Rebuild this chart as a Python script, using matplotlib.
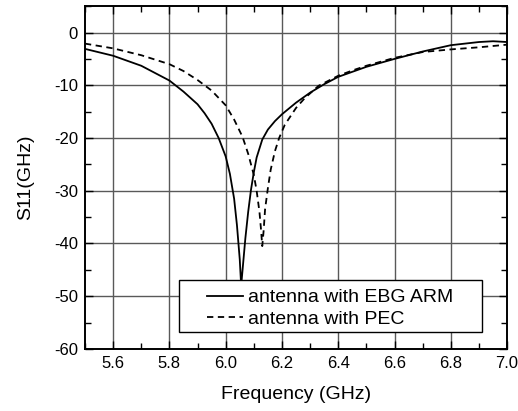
import matplotlib
matplotlib.use("Agg")
import matplotlib.pyplot as plt
from matplotlib.patches import Rectangle
from matplotlib.ticker import MultipleLocator

plt.rcParams['font.family'] = ['Liberation Sans', 'DejaVu Sans']

# antenna with EBG ARM (solid)
freq_ebg = [5.50, 5.60, 5.70, 5.80, 5.85, 5.90, 5.925, 5.95, 5.975, 6.00, 6.015,
            6.03, 6.04, 6.05, 6.055, 6.06, 6.065, 6.07, 6.08, 6.09, 6.10, 6.11,
            6.13, 6.15, 6.175, 6.20, 6.25, 6.30, 6.35, 6.40, 6.50, 6.60, 6.70,
            6.80, 6.90, 6.95, 7.00]
s11_ebg = [-3.1, -4.4, -6.3, -9.1, -11.2, -13.6, -15.3, -17.3, -20.0, -23.5, -26.8,
           -31.5, -36.5, -43.0, -48.0, -45.0, -42.0, -39.0, -34.0, -29.8, -26.5, -23.7,
           -20.3, -18.4, -16.8, -15.5, -13.3, -11.4, -9.8, -8.4, -6.5, -5.0, -3.6,
           -2.4, -1.8, -1.65, -1.8]

# antenna with PEC (dashed)
freq_pec = [5.50, 5.60, 5.70, 5.80, 5.85, 5.90, 5.95, 6.00, 6.03, 6.06, 6.08,
            6.10, 6.11, 6.12, 6.125, 6.13, 6.135, 6.14, 6.15, 6.16, 6.175, 6.19,
            6.21, 6.25, 6.28, 6.33, 6.40, 6.45, 6.50, 6.60, 6.70, 6.80,
            6.90, 7.00]
s11_pec = [-2.1, -3.0, -4.3, -6.0, -7.3, -9.0, -11.0, -13.8, -16.5, -19.8, -23.0,
           -27.0, -30.0, -34.0, -37.0, -40.5, -37.5, -33.5, -29.5, -26.0, -22.5, -20.0,
           -17.5, -14.3, -12.5, -10.1, -8.2, -7.2, -6.3, -4.8, -3.7, -3.2,
           -2.8, -2.3]

fig = plt.figure(figsize=(5.18, 4.11), dpi=100)
ax = fig.add_axes([0.164, 0.151, 0.815, 0.834])

ax.plot(freq_ebg, s11_ebg, color="black", linewidth=1.3, label="antenna with EBG ARM")
ax.plot(freq_pec, s11_pec, color="black", linewidth=1.3, dashes=(3.5, 2.5),
        label="antenna with PEC")

ax.set_xlim(5.5, 7.0)
ax.set_ylim(-60, 5)
ax.xaxis.set_minor_locator(MultipleLocator(0.1))
ax.yaxis.set_minor_locator(MultipleLocator(5))
ax.set_xticks([5.6, 5.8, 6.0, 6.2, 6.4, 6.6, 6.8, 7.0])
ax.set_xticklabels(["5.6", "5.8", "6.0", "6.2", "6.4", "6.6", "6.8", "7.0"])
ax.set_yticks([0, -10, -20, -30, -40, -50, -60])
ax.set_yticklabels(["0", "-10", "-20", "-30", "-40", "-50", "-60"])

ax.grid(True, which="major", color="0.35", linewidth=1.0)
ax.set_axisbelow(True)
ax.tick_params(which="both", direction="in", top=True, right=True, labelsize=12)
ax.tick_params(which="major", length=6, width=1, pad=5)
ax.tick_params(which="minor", length=4, width=1)
for sp in ax.spines.values():
    sp.set_linewidth(1.4)

ax.set_xlabel("Frequency (GHz)", fontsize=14, labelpad=11)
ax.set_ylabel("S11(GHz)", fontsize=14, labelpad=14)

# legend box
ax.add_patch(Rectangle((0.223, 0.05), 0.718, 0.152, transform=ax.transAxes,
                       facecolor="white", edgecolor="black", linewidth=1.0,
                       zorder=4))
leg = ax.legend(loc="center left", bbox_to_anchor=(0.289, 0.118),
                fontsize=14, frameon=False, handlelength=1.85,
                handletextpad=0.25, borderpad=0, labelspacing=0.22,
                borderaxespad=0)
leg.set_zorder(5)

fig.savefig("out.png", dpi=100)
